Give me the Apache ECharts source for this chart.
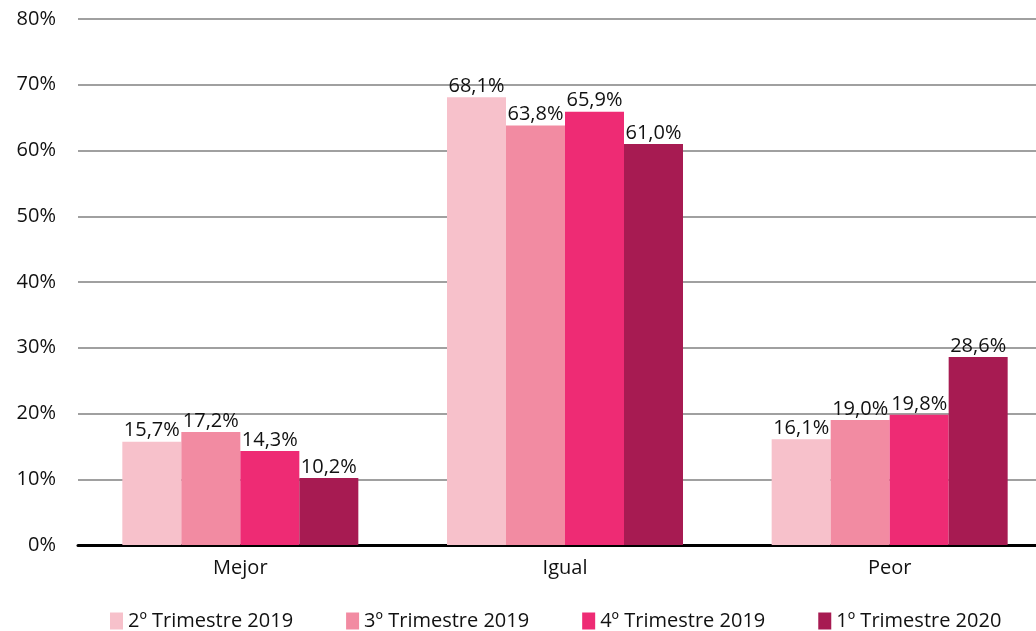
<!DOCTYPE html>
<html>
<head>
<meta charset="utf-8">
<script src="https://cdn.jsdelivr.net/npm/echarts@6/dist/echarts.min.js"></script>
<style>
  html, body { margin: 0; padding: 0; background: #fff; overflow: hidden; }
  #chart { width: 1052px; height: 631px; }
</style>
</head>
<body>
<div id="chart"></div>
<script>
var categories = ['Mejor', 'Igual', 'Peor'];
var seriesNames = ['2º Trimestre 2019', '3º Trimestre 2019', '4º Trimestre 2019', '1º Trimestre 2020'];
var t2_2019 = [15.7, 68.1, 16.1];
var t3_2019 = [17.2, 63.8, 19.0];
var t4_2019 = [14.3, 65.9, 19.8];
var t1_2020 = [10.2, 61.0, 28.6];
var colors = ['#F7C1CB', '#F28BA2', '#EE2B74', '#A71B52'];

var fontName = 'Open Sans';
var chart = echarts.init(document.getElementById('chart'));

function pct(v) {
    return v.toFixed(1).replace('.', ',') + '%';
}

var values = [t2_2019, t3_2019, t4_2019, t1_2020];
var series = seriesNames.map(function(name, i) {
    return {
        name: name,
        type: 'bar',
        data: values[i],
        barWidth: 59,
        barGap: '0%',
        itemStyle: { color: colors[i] },
        label: {
            show: true,
            position: 'top',
            distance: 1,
            color: '#111',
            fontFamily: fontName,
            fontSize: 20,
            formatter: function(p) { return pct(p.value); }
        }
    };
});

var option = {
    animation: false,
    grid: { left: 78, right: 0, top: 19, bottom: 86 },
    legend: {
        top: 606,
        left: 105,
        itemWidth: 13,
        itemHeight: 17,
        itemGap: 53,
        icon: 'rect',
        textStyle: { fontFamily: fontName, fontSize: 20, color: '#111' },
        data: seriesNames
    },
    xAxis: {
        type: 'category',
        data: categories,
        axisTick: { show: false },
        axisLine: { lineStyle: { color: '#000', width: 3 } },
        axisLabel: { fontFamily: fontName, fontSize: 20, color: '#111', margin: 13 }
    },
    yAxis: {
        type: 'value',
        min: 0,
        max: 80,
        interval: 10,
        axisLabel: {
            fontFamily: fontName, fontSize: 20, color: '#111', margin: 22,
            formatter: '{value}%'
        },
        splitLine: { lineStyle: { color: '#a0a0a0', width: 2 } }
    },
    series: series
};

chart.setOption(option);
</script>
</body>
</html>
